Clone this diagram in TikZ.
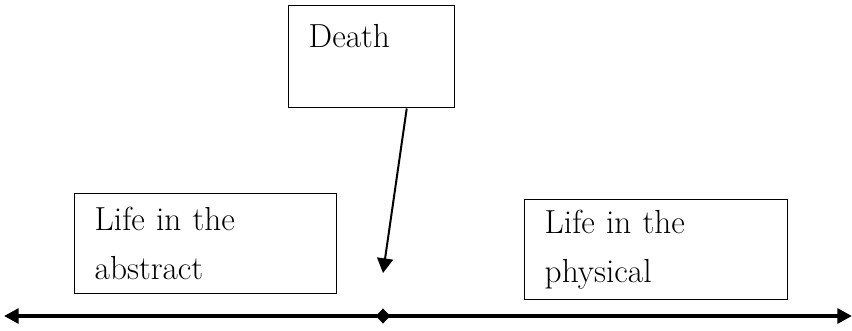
\documentclass[tikz,border=0pt]{standalone}
\usepackage{tikz}
\usetikzlibrary{shapes.geometric, arrows.meta, calc}
\tikzstyle{block} = [draw, rectangle, line width=1.1pt, align=left, inner xsep=15pt, inner ysep=0pt, font=\fontsize{25}{37}\selectfont]
\tikzstyle{wire} = [-{Triangle[length=11pt, width=12pt]}, line width=1.5pt]
\tikzstyle{axis} = [{Triangle[length=11pt, width=11pt]}-{Triangle[length=11pt, width=11pt]}, line width=3pt]
\tikzstyle{mark point} = [diamond, fill=black, inner sep=0pt, minimum width=11pt, minimum height=11.5pt]

\begin{document}
\begin{tikzpicture}[x=0.75pt, y=-0.75pt]
    \useasboundingbox (0,0) rectangle (852,330);
    \node[block, anchor=north west, text width=166*0.75pt-30pt, text height=31.5pt, text depth=45pt] (death) at (288,5) {Death};
    \node[block, anchor=north west, text width=262*0.75pt-30pt, minimum height=75pt] (abstract) at (74,193) {Life in the\\abstract};
    \node[block, anchor=north west, text width=263*0.75pt-30pt, minimum height=75pt] (physical) at (524,199) {Life in the\\physical};
    \coordinate (west) at (4,316);
    \coordinate (east) at (852,316);
    \coordinate (now) at (383,273);
    \draw[axis] (west) -- (east);
    \node[mark point] (mid) at (383,316) {};
    \draw[wire] ([xshift=35*0.75pt]death.south) -- (now);
\end{tikzpicture}
\end{document}
